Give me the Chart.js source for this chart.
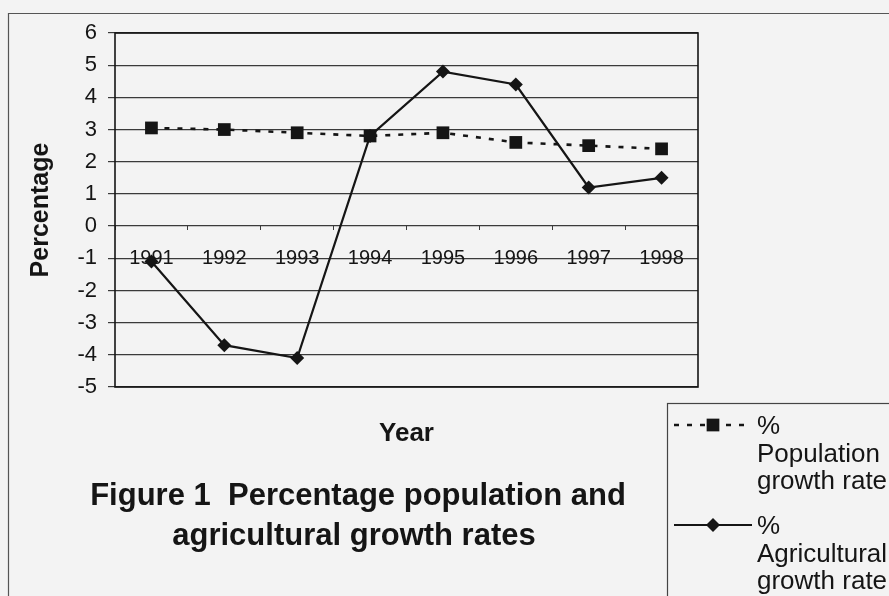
<!DOCTYPE html>
<html>
<head>
<meta charset="utf-8">
<script src="https://cdn.jsdelivr.net/npm/chart.js@4/dist/chart.umd.min.js"></script>
<style>
  html, body { margin: 0; padding: 0; background: #f3f3f3; }
  #wrap { width: 889px; height: 596px; }
</style>
</head>
<body>
<div id="wrap"><canvas id="c" width="889" height="596"></canvas></div>
<script>
// Kenya: annual growth rates, 1991-1998 (%)
const years = ['1991', '1992', '1993', '1994', '1995', '1996', '1997', '1998'];
const populationGrowth = [3.05, 3.0, 2.9, 2.8, 2.9, 2.6, 2.5, 2.4];
const agriculturalGrowth = [-1.1, -3.7, -4.1, 2.8, 4.8, 4.4, 1.2, 1.5];
const legendLabels = [['%', 'Population', 'growth rate'], ['%', 'Agricultural', 'growth rate']];
const titleLines = ['Figure 1  Percentage population and', 'agricultural growth rates'];
const xAxisTitle = 'Year';
const yAxisTitle = 'Percentage';

const INK = '#151515';
const GRID = '#3a3a3a';
const FONT = '"Liberation Sans", Arial, sans-serif';

function drawMarker(ctx, style, x, y, r) {
  ctx.beginPath();
  if (style === 'rect') {
    const s = r * Math.SQRT2 / 2;
    ctx.rect(x - s, y - s, 2 * s, 2 * s);
  } else {
    ctx.moveTo(x, y - r); ctx.lineTo(x + r, y); ctx.lineTo(x, y + r); ctx.lineTo(x - r, y); ctx.closePath();
  }
  ctx.fill();
}

const pagePlugin = {
  id: 'page',
  beforeDraw(chart) {
    const ctx = chart.ctx;
    ctx.save();
    ctx.fillStyle = '#f3f3f3';
    ctx.fillRect(0, 0, chart.width, chart.height);
    // outer chart frame
    ctx.strokeStyle = '#555';
    ctx.lineWidth = 1.2;
    ctx.beginPath();
    ctx.moveTo(8.5, chart.height + 5);
    ctx.lineTo(8.5, 13.5);
    ctx.lineTo(chart.width + 5, 13.5);
    ctx.stroke();
    ctx.restore();
  },
  beforeDatasetsDraw(chart) {
    const ctx = chart.ctx, a = chart.chartArea;
    ctx.save();
    ctx.strokeStyle = INK;
    ctx.lineWidth = 1.6;
    ctx.strokeRect(a.left, a.top, a.right - a.left, a.bottom - a.top);
    ctx.restore();
  },
  afterDraw(chart) {
    const ctx = chart.ctx, a = chart.chartArea;
    ctx.save();
    ctx.fillStyle = INK;
    ctx.textAlign = 'center';
    ctx.textBaseline = 'middle';
    ctx.font = 'bold 26px ' + FONT;
    ctx.fillText(xAxisTitle, (a.left + a.right) / 2, 434);

    ctx.font = 'bold 31px ' + FONT;
    ctx.textBaseline = 'alphabetic';
    ctx.fillText(titleLines[0], 358, 505);
    ctx.fillText(titleLines[1], 354, 545);

    // legend box
    ctx.strokeStyle = '#444';
    ctx.lineWidth = 1.2;
    ctx.strokeRect(667.5, 403.5, 300, 300);

    const rows = [425, 525];
    ctx.font = '26px ' + FONT;
    ctx.textAlign = 'left';
    ctx.textBaseline = 'middle';
    chart.data.datasets.forEach((ds, i) => {
      const y = rows[i];
      ctx.strokeStyle = ds.borderColor;
      ctx.lineWidth = ds.borderWidth;
      ctx.setLineDash(ds.borderDash || []);
      ctx.beginPath();
      ctx.moveTo(674, y);
      ctx.lineTo(752, y);
      ctx.stroke();
      ctx.setLineDash([]);
      ctx.fillStyle = ds.pointBackgroundColor;
      drawMarker(ctx, ds.pointStyle, 713, y, ds.pointRadius);
      ctx.fillStyle = INK;
      legendLabels[i].forEach((t, k) => ctx.fillText(t, 757, y + 2 + k * 27.5));
    });
    ctx.restore();
  }
};

new Chart(document.getElementById('c'), {
  type: 'line',
  data: {
    labels: years,
    datasets: [
      {
        label: '% Population growth rate',
        data: populationGrowth,
        borderColor: INK,
        borderWidth: 2.6,
        borderDash: [5, 8],
        pointStyle: 'rect',
        pointRadius: 9,
        pointBackgroundColor: INK,
        pointBorderColor: INK,
        pointBorderWidth: 0,
        tension: 0
      },
      {
        label: '% Agricultural growth rate',
        data: agriculturalGrowth,
        borderColor: INK,
        borderWidth: 2.2,
        pointStyle: 'rectRot',
        pointRadius: 7,
        pointBackgroundColor: INK,
        pointBorderColor: INK,
        pointBorderWidth: 0,
        tension: 0
      }
    ]
  },
  options: {
    responsive: false,
    animation: false,
    devicePixelRatio: 1,
    layout: { padding: { left: 8, top: 33, right: 191, bottom: 209 } },
    plugins: { legend: { display: false }, title: { display: false }, tooltip: { enabled: false } },
    scales: {
      x: {
        type: 'category',
        position: { y: 0 },
        offset: true,
        border: { display: false },
        grid: { offset: true, drawOnChartArea: false, drawTicks: true, tickLength: 4, color: GRID },
        ticks: { color: INK, font: { family: FONT, size: 20 }, padding: 16, maxRotation: 0, autoSkip: false }
      },
      y: {
        min: -5,
        max: 6,
        afterFit(s) { s.width = 107; },
        border: { display: false },
        grid: { color: GRID, lineWidth: 1.2, drawTicks: true, tickLength: 7 },
        ticks: { stepSize: 1, color: INK, font: { family: FONT, size: 22 }, padding: 11 },
        title: { display: true, text: yAxisTitle, color: INK, font: { family: FONT, size: 25, weight: 'bold' }, padding: { top: 18, bottom: 0 } }
      }
    }
  },
  plugins: [pagePlugin]
});
</script>
</body>
</html>
